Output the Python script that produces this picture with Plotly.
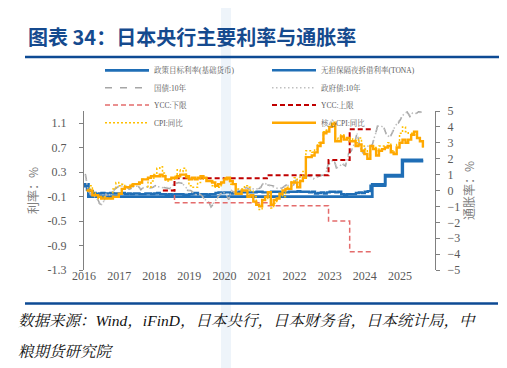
import plotly.graph_objects as go

# ---------------- data ----------------
# monthly dates for monthly series (Jan 2016 .. Aug 2025)
month_end = [f"{y}-{m:02d}-28" for y in range(2016, 2026) for m in range(1, 13)][:116]
month_mid = [f"{y}-{m:02d}-15" for y in range(2016, 2026) for m in range(1, 13)][:116]
month_start = [f"{y}-{m:02d}-01" for y in range(2016, 2026) for m in range(1, 13)][:117]

policy_dates = ["2016-01-01", "2016-02-16", "2024-03-19", "2024-07-31", "2025-01-24", "2025-08-31"]
policy_rate = [0.10, -0.10, 0.10, 0.25, 0.50, 0.50]

tona = [
    0.07, 0.01, -0.01, -0.04, -0.06, -0.05, -0.04, -0.05, -0.05, -0.04, -0.05, -0.05,
    -0.05, -0.04, -0.06, -0.05, -0.06, -0.05, -0.05, -0.06, -0.06, -0.05, -0.05, -0.06,
    -0.05, -0.04, -0.06, -0.06, -0.07, -0.06, -0.07, -0.06, -0.06, -0.06, -0.07, -0.07,
    -0.06, -0.05, -0.04, -0.06, -0.06, -0.06, -0.07, -0.06, -0.06, -0.04, -0.03, -0.04,
    -0.03, -0.03, -0.05, -0.04, -0.03, -0.02, -0.03, -0.03, -0.03, -0.03, -0.03, -0.02,
    -0.02, -0.03, -0.03, -0.03, -0.02, -0.02, -0.02, -0.03, -0.03, -0.03, -0.02, -0.02,
    -0.02, -0.01, -0.02, -0.02, -0.02, -0.03, -0.02, -0.05, -0.04, -0.03, -0.05, -0.03,
    -0.02, -0.02, -0.03, -0.02, -0.06, -0.07, -0.06, -0.06, -0.06, -0.04, -0.03, -0.04,
    -0.02, -0.01, 0.077, 0.077, 0.077, 0.077, 0.077, 0.227, 0.227, 0.227, 0.227, 0.227,
    0.227, 0.477, 0.477, 0.477, 0.477, 0.477, 0.477, 0.477, 0.477,
]

jgb10 = [
    0.27, 0.00, -0.08, -0.12, -0.12, -0.22, -0.25, -0.08, -0.07, -0.05, 0.02, 0.05,
    0.09, 0.06, 0.07, 0.02, 0.04, 0.08, 0.08, 0.01, 0.06, 0.07, 0.04, 0.05,
    0.08, 0.05, 0.04, 0.05, 0.04, 0.03, 0.10, 0.11, 0.13, 0.12, 0.09, 0.00,
    0.00, -0.03, -0.08, -0.05, -0.09, -0.16, -0.16, -0.27, -0.21, -0.13, -0.07, -0.02,
    -0.06, -0.15, 0.01, -0.04, 0.00, 0.03, 0.02, 0.05, 0.02, 0.04, 0.03, 0.02,
    0.05, 0.15, 0.09, 0.09, 0.08, 0.06, 0.02, 0.03, 0.07, 0.10, 0.06, 0.07,
    0.17, 0.20, 0.22, 0.23, 0.24, 0.23, 0.18, 0.22, 0.24, 0.25, 0.25, 0.42,
    0.49, 0.50, 0.35, 0.39, 0.43, 0.40, 0.60, 0.65, 0.77, 0.95, 0.67, 0.61,
    0.73, 0.71, 0.73, 0.88, 1.07, 1.05, 1.05, 0.90, 0.85, 0.95, 1.05, 1.10,
    1.18, 1.27, 1.29, 1.21, 1.28, 1.25, 1.29, 1.28,
]

govt10 = [
    0.25, -0.02, -0.06, -0.10, -0.13, -0.24, -0.22, -0.06, -0.08, -0.04, 0.03, 0.06,
    0.08, 0.07, 0.06, 0.03, 0.05, 0.07, 0.07, 0.02, 0.05, 0.06, 0.05, 0.06,
    0.07, 0.06, 0.05, 0.04, 0.05, 0.04, 0.09, 0.12, 0.14, 0.11, 0.08, 0.01,
    -0.01, -0.04, -0.07, -0.06, -0.10, -0.15, -0.17, -0.25, -0.20, -0.14, -0.06, -0.03,
    -0.05, -0.13, 0.00, -0.03, 0.01, 0.02, 0.03, 0.04, 0.01, 0.03, 0.02, 0.03,
    0.06, 0.13, 0.10, 0.08, 0.07, 0.05, 0.03, 0.04, 0.06, 0.09, 0.07, 0.08,
    0.16, 0.21, 0.23, 0.24, 0.23, 0.24, 0.19, 0.23, 0.25, 0.26, 0.26, 0.40,
    0.47, 0.51, 0.37, 0.40, 0.44, 0.41, 0.58, 0.66, 0.76, 0.93, 0.69, 0.63,
    0.72, 0.73, 0.75, 0.89, 1.05, 1.06, 1.03, 0.92, 0.87, 0.96, 1.06, 1.12,
    1.20, 1.26, 1.28, 1.23, 1.27, 1.26, 1.28, 1.27,
]

ycc_dates = ["2018-04-01", "2018-07-31", "2021-03-19", "2022-12-20", "2023-07-28", "2024-03-19"]
ycc_lower = [0.00, -0.20, -0.25, -0.50, -1.00, -1.00]
ycc_upper = [0.00, 0.20, 0.25, 0.50, 1.00, 1.00]

cpi = [
    0.0, 0.3, -0.1, -0.3, -0.5, -0.4, -0.4, -0.5, -0.5, 0.1, 0.5, 0.3,
    0.4, 0.3, 0.2, 0.4, 0.4, 0.4, 0.4, 0.7, 0.7, 0.2, 0.6, 1.0,
    1.4, 1.5, 1.1, 0.6, 0.7, 0.7, 0.9, 1.3, 1.2, 1.4, 0.8, 0.3,
    0.2, 0.2, 0.5, 0.9, 0.7, 0.7, 0.5, 0.3, 0.2, 0.2, 0.5, 0.8,
    0.7, 0.4, 0.4, 0.1, 0.1, 0.1, 0.3, 0.2, 0.0, -0.4, -0.9, -1.2,
    -0.6, -0.5, -0.4, -1.1, -0.8, -0.5, -0.3, -0.4, 0.2, 0.1, 0.6, 0.8,
    0.5, 0.9, 1.2, 2.5, 2.5, 2.4, 2.6, 3.0, 3.0, 3.7, 3.8, 4.0,
    4.3, 3.3, 3.2, 3.5, 3.2, 3.3, 3.3, 3.2, 3.0, 3.3, 2.8, 2.6,
    2.2, 2.8, 2.7, 2.5, 2.8, 2.8, 2.8, 3.0, 2.5, 2.3, 2.9, 3.6,
    4.0, 3.7, 3.6, 3.6, 3.5, 3.3, 3.1, 2.7,
]

core_cpi = [
    0.0, 0.0, -0.3, -0.3, -0.4, -0.5, -0.5, -0.5, -0.5, -0.4, -0.4, -0.2,
    0.1, 0.2, 0.2, 0.3, 0.4, 0.4, 0.5, 0.7, 0.7, 0.8, 0.9, 0.9,
    0.9, 1.0, 0.9, 0.7, 0.7, 0.8, 0.8, 0.9, 1.0, 1.0, 0.9, 0.7,
    0.8, 0.7, 0.8, 0.9, 0.8, 0.6, 0.6, 0.5, 0.3, 0.4, 0.5, 0.7,
    0.8, 0.6, 0.4, -0.2, -0.2, 0.0, 0.0, -0.4, -0.3, -0.7, -0.9, -1.0,
    -0.6, -0.4, -0.1, -0.9, -0.6, -0.5, -0.2, 0.0, 0.1, 0.1, 0.5, 0.5,
    0.2, 0.6, 0.8, 2.1, 2.1, 2.2, 2.4, 2.8, 3.0, 3.6, 3.7, 4.0,
    4.2, 3.1, 3.1, 3.4, 3.2, 3.3, 3.1, 3.1, 2.8, 2.9, 2.5, 2.3,
    2.0, 2.8, 2.6, 2.2, 2.5, 2.6, 2.7, 2.8, 2.4, 2.3, 2.7, 3.0,
    3.2, 3.0, 3.2, 3.5, 3.7, 3.3, 3.1, 2.7,
]

year_ticks = [f"{y}-01-01" for y in range(2016, 2026)]
year_labels = [str(y) for y in range(2016, 2026)]
left_ticks = [-1.3, -0.9, -0.5, -0.1, 0.3, 0.7, 1.1]
right_ticks = [-5, -4, -3, -2, -1, 0, 1, 2, 3, 4, 5]

names = ["政策目标利率(基础货币)", "无担保隔夜拆借利率(TONA)", "国债:10年", "政府债:10年",
         "YCC:下限", "YCC:上限", "CPI:同比", "核心CPI:同比"]

# ---------------- layout helpers ----------------
W, H = 507, 368
L, R, T, B = 76, 80, 103, 106
PW, PH = W - L - R, H - T - B


def fx(px):
    return (px - L) / PW


def fy(py):
    return (H - B - py) / PH


SERIF = "Liberation Serif, Noto Serif CJK SC, Noto Sans CJK SC, serif"
CJK = "Noto Sans CJK SC, Liberation Serif, sans-serif"
BLUE = "#1F6EB6"

fig = go.Figure()
fig.add_trace(go.Scatter(x=policy_dates, y=policy_rate, name=names[0], mode="lines", legend="legend",
                         line=dict(color=BLUE, width=2.8, shape="hv")))
fig.add_trace(go.Scatter(x=month_start, y=tona, name=names[1], mode="lines", legend="legend",
                         line=dict(color=BLUE, width=2.4, shape="hv")))
fig.add_trace(go.Scatter(x=month_mid, y=jgb10, name=names[2], mode="lines", legend="legend2",
                         line=dict(color="#A6A6A6", width=1.5, dash="7px,8px")))
fig.add_trace(go.Scatter(x=month_mid, y=govt10, name=names[3], mode="lines", legend="legend2",
                         line=dict(color="#BFBFBF", width=1.5, dash="1.5px,2.5px")))
fig.add_trace(go.Scatter(x=ycc_dates, y=ycc_lower, name=names[4], mode="lines", legend="legend3",
                         line=dict(color="#E46C6C", width=1.5, dash="5px,3px", shape="hv")))
fig.add_trace(go.Scatter(x=ycc_dates, y=ycc_upper, name=names[5], mode="lines", legend="legend3",
                         line=dict(color="#C00000", width=2, dash="5px,3px", shape="hv")))
fig.add_trace(go.Scatter(x=month_end, y=cpi, name=names[6], mode="lines", yaxis="y2", legend="legend4",
                         line=dict(color="#FFC000", width=1.5, dash="2px,2px", shape="hv")))
fig.add_trace(go.Scatter(x=month_end, y=core_cpi, name=names[7], mode="lines", yaxis="y2", legend="legend4",
                         line=dict(color="#FFA800", width=2.4, shape="hv")))

xrange = ["2016-01-01", "2026-01-01"]
AX = "#808080"
TICKFONT = dict(family=SERIF, size=12, color="#595959")


def legend_row(center_py):
    return dict(orientation="h", x=fx(92), xanchor="left", y=fy(center_py - 22.5), yanchor="top",
                entrywidth=108, entrywidthmode="pixels", itemwidth=44,
                bgcolor="rgba(0,0,0,0)", traceorder="normal",
                font=dict(family=SERIF, size=7.5, color="#595959"))


fig.update_layout(
    template="none",
    width=W, height=H,
    margin=dict(l=L, r=R, t=T, b=B, autoexpand=False),
    paper_bgcolor="white", plot_bgcolor="rgba(0,0,0,0)",
    showlegend=True,
    title=dict(text="<b>图表 34：日本央行主要利率与通胀率</b>", xref="container", yref="container",
               x=20 / W, y=1 - 30 / H, xanchor="left", yanchor="middle",
               font=dict(family=CJK, size=20, color="#154A8E")),
    xaxis=dict(range=xrange, type="date", tickvals=year_ticks, ticktext=year_labels,
               showgrid=False, showline=False, zeroline=False, ticks="", automargin=False,
               ticklabelstandoff=-3, tickfont=TICKFONT),
    xaxis2=dict(range=xrange, type="date", overlaying="x", anchor="free", position=0.5,
                tickvals=year_ticks, showticklabels=False, showgrid=False, zeroline=False,
                showline=True, linecolor=AX, linewidth=1.3, ticks="outside", ticklen=4,
                tickcolor=AX, tickwidth=1, automargin=False),
    yaxis=dict(range=[-1.3, 1.3], tickvals=left_ticks, ticktext=[f"{v:.1f}" for v in left_ticks],
               showgrid=False, zeroline=False, showline=True, linecolor=AX, linewidth=1.3,
               ticks="outside", ticklen=4, tickcolor=AX, tickfont=TICKFONT, ticklabelstandoff=10,
               automargin=False,
               title=dict(text="利率：%", standoff=6, font=dict(family=CJK, size=12, color="#808080"))),
    yaxis2=dict(range=[-5, 5], tickvals=right_ticks, overlaying="y", side="right",
                showgrid=False, zeroline=False, showline=True, linecolor=AX, linewidth=1.3,
                ticks="outside", ticklen=4, tickcolor=AX, tickfont=TICKFONT, ticklabelstandoff=5,
                automargin=False,
                title=dict(text="通胀率：%", standoff=4, font=dict(family=CJK, size=12, color="#808080"))),
    legend=legend_row(70.3),
    legend2=legend_row(87.7),
    legend3=legend_row(105),
    legend4=legend_row(122.7),
    annotations=[
        dict(text="<i>数据来源：Wind，iFinD，日本央行，日本财务省，日本统计局，中</i>",
             xref="paper", yref="paper", x=fx(8), y=fy(313), xanchor="left", yanchor="middle",
             showarrow=False, font=dict(family=SERIF, size=15.5, color="#111111")),
        dict(text="<i>粮期货研究院</i>",
             xref="paper", yref="paper", x=fx(8), y=fy(343), xanchor="left", yanchor="middle",
             showarrow=False, font=dict(family=SERIF, size=15.5, color="#111111")),
    ],
    shapes=[
        dict(type="rect", xref="paper", yref="paper", x0=fx(213), x1=fx(223), y0=fy(368), y1=fy(0),
             fillcolor="#EEF4FA", line=dict(width=0), layer="below"),
        dict(type="line", xref="paper", yref="paper", x0=fx(17), x1=fx(495), y0=fy(49), y1=fy(49),
             line=dict(color="#0D4A94", width=2.5)),
        dict(type="line", xref="paper", yref="paper", x0=fx(17), x1=fx(490), y0=fy(295.5), y1=fy(295.5),
             line=dict(color="#0D4A94", width=2.5)),
    ],
)

fig.write_html("out.html")
